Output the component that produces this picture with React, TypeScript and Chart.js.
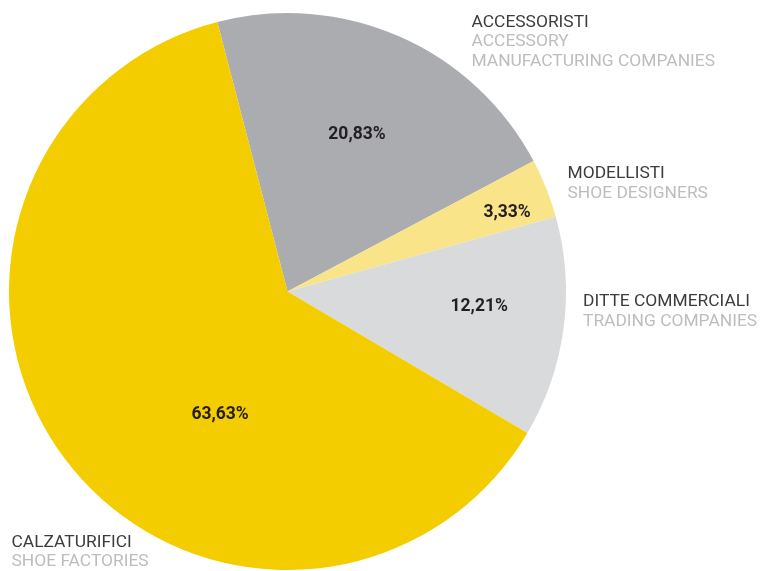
import React, { useEffect, useRef } from "react";
import { Chart, registerables } from "chart.js";

Chart.register(...registerables);

const categories = ["ACCESSORISTI", "MODELLISTI", "DITTE COMMERCIALI", "CALZATURIFICI"];
const subtitles = [["ACCESSORY", "MANUFACTURING COMPANIES"], ["SHOE DESIGNERS"], ["TRADING COMPANIES"], ["SHOE FACTORIES"]];
// printed percentages
const valueLabels = ["20,83%", "3,33%", "12,21%", "63,63%"];
// slice shares as drawn in the picture (measured from the arc angles)
const sliceShares = [21.3, 3.43, 12.8, 62.47];
const colors = ["#ABACAF", "#FAE48A", "#D9DADC", "#F4CD00"];

const FONT = "Roboto, 'DejaVu Sans', sans-serif";

const labelPlugin = {
  id: "pieLabels",
  afterDatasetsDraw(chart: any, _args: any, opts: any) {
    const ctx = chart.ctx;
    const meta = chart.getDatasetMeta(0);
    ctx.save();
    meta.data.forEach((arc: any, i: number) => {
      const p = arc.getProps(["x", "y", "startAngle", "endAngle", "outerRadius"], true);
      const mid = (p.startAngle + p.endAngle) / 2 + (opts.angleShift[i] * Math.PI) / 180;
      const r = p.outerRadius * opts.radiusFrac[i];
      const x = p.x + Math.cos(mid) * r;
      const y = p.y + Math.sin(mid) * r;
      ctx.font = `bold 17.5px ${FONT}`;
      ctx.fillStyle = "#231F20";
      ctx.textAlign = "center";
      ctx.textBaseline = "alphabetic";
      ctx.fillText(valueLabels[i], x, y + 6);

      // outer category labels
      const [ox, oy] = opts.outer[i];
      ctx.textAlign = "left";
      ctx.font = `17.4px ${FONT}`;
      ctx.fillStyle = "#3C3C3B";
      ctx.fillText(categories[i], ox, oy);
      ctx.fillStyle = "#BDBDBD";
      subtitles[i].forEach((s, k) => ctx.fillText(s, ox, oy + 19.7 * (k + 1)));
    });
    ctx.restore();
  },
};

export default function App() {
  const ref = useRef<HTMLCanvasElement>(null);
  useEffect(() => {
    if (!ref.current) return;
    const chart = new Chart(ref.current, {
      type: "pie",
      data: {
        labels: categories,
        datasets: [{ data: sliceShares, backgroundColor: colors, borderWidth: 0 }],
      },
      options: {
        animation: false,
        responsive: false,
        rotation: -14.6,
        layout: { padding: { top: 13, bottom: 1, left: 9, right: 195 } },
        plugins: {
          legend: { display: false },
          tooltip: { enabled: false },
          pieLabels: {
            angleShift: [0, 1.6, -3.5, -24],
            radiusFrac: [0.62, 0.84, 0.69, 0.5],
            outer: [[471.5, 26.5], [567.5, 178.3], [583, 306], [11.5, 546.5]],
          },
        } as any,
      },
      plugins: [labelPlugin],
    });
    return () => chart.destroy();
  }, []);
  return (
    <div style={{ position: "fixed", left: 0, top: 0, width: 761, height: 571, background: "#fff" }}>
      <canvas ref={ref} width={761} height={571} style={{ width: 761, height: 571 }} />
    </div>
  );
}
